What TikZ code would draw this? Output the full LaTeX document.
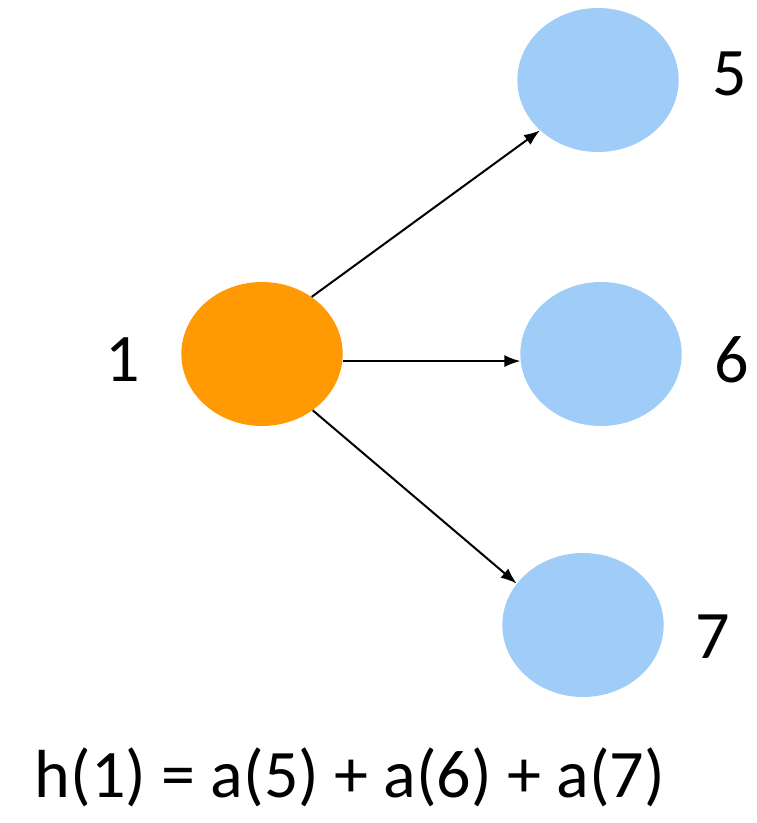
\documentclass[tikz,border=0pt]{standalone}
\usepackage{fontspec}
\setmainfont{Carlito}
\usepackage{tikz}
\usetikzlibrary{arrows.meta,positioning,calc,shapes.geometric}
\definecolor{norange}{HTML}{FF9A05}
\definecolor{nblue}{HTML}{9FCDF8}
\tikzset{
 vertex/.style={ellipse,minimum width=121pt,minimum height=108pt,inner sep=0pt},
 srcvertex/.style={vertex,fill=norange},
 dstvertex/.style={vertex,fill=nblue},
 lbl/.style={font=\fontsize{51}{60}\selectfont,inner sep=0pt},
 arrow/.style={-{Latex[length=12pt,width=9pt]},line width=1.5pt,draw=black}
}
\begin{document}
\begin{tikzpicture}[x=0.75pt,y=-0.75pt]
 \useasboundingbox (0,0) rectangle (756,823);
 \node[srcvertex] (n1) at (262,354) {};
 \node[dstvertex] (n5) at (598,80) {};
 \node[dstvertex] (n6) at (601,354) {};
 \node[dstvertex] (n7) at (583,625) {};
 \node[lbl] (l1) at (123,360) {1};
 \node[lbl] (l5) at (730,74) {5};
 \node[lbl] (l6) at (732,360) {6};
 \node[lbl] (l7) at (713,637) {7};
 \node[lbl] (hsum) at (350,777) {h(1) = a(5) + a(6) + a(7)};
 \draw[arrow] (n1.49) -- (n5.221);
 \draw[arrow] (n1.-5) -- (n6.185);
 \draw[arrow] (n1.-48) -- (n7.148);
\end{tikzpicture}
\end{document}
